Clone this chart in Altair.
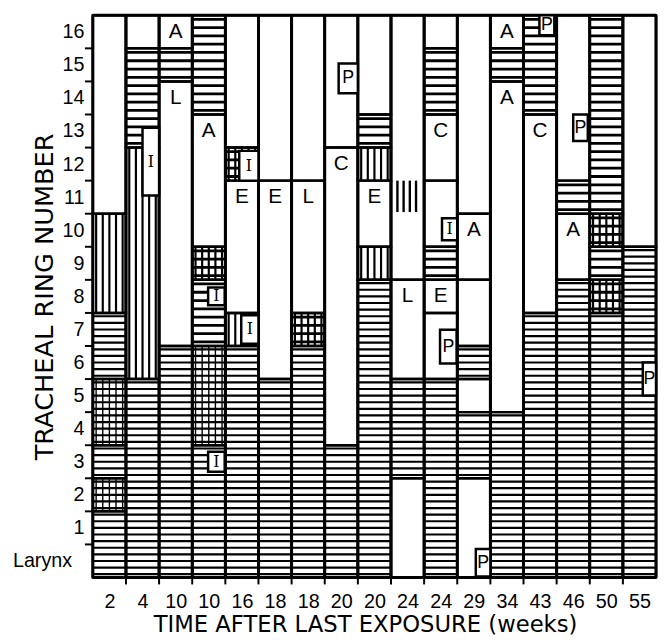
import json
import altair as alt
import pandas as pd

weeks = ["2", "4", "10", "10", "16", "18", "18", "20", "20", "24", "24", "29", "34", "43", "46", "50", "55"]
ring_labels = [""] + [str(i) for i in range(1, 17)]   # "Larynx" is drawn as its own label

# Segments of each column: column index, lower ring, upper ring, pattern, letter
# pattern: W = blank, H = horizontal lines, V = vertical lines, X = cross hatch
seg_col = [0, 0, 0, 0, 0, 0, 0,
           1, 1, 1, 1,
           2, 2, 2, 2,
           3, 3, 3, 3, 3, 3,
           4, 4, 4, 4, 4,
           5, 5, 5,
           6, 6, 6, 6,
           7, 7, 7,
           8, 8, 8, 8, 8, 8,
           9, 9, 9, 9,
           10, 10, 10, 10, 10, 10, 10, 10,
           11, 11, 11, 11, 11, 11, 11,
           12, 12, 12, 12,
           13, 13, 13,
           14, 14, 14, 14,
           15, 15, 15, 15, 15,
           16, 16]
seg_lo = [11, 8, 6, 4, 3, 2, 0,
          16, 13, 6, 0,
          16, 15, 7, 0,
          14, 10, 9, 7, 4, 0,
          13, 12, 8, 7, 0,
          12, 6, 0,
          12, 8, 7, 0,
          13, 4, 0,
          14, 13, 12, 10, 9, 0,
          9, 6, 3, 0,
          16, 14, 12, 10, 9, 8, 6, 0,
          11, 9, 7, 6, 5, 3, 0,
          16, 15, 5, 0,
          14, 8, 0,
          12, 11, 9, 0,
          11, 10, 9, 8, 0,
          10, 0]
seg_hi = [17, 11, 8, 6, 4, 3, 2,
          17, 16, 13, 6,
          17, 16, 15, 7,
          17, 14, 10, 9, 7, 4,
          17, 13, 12, 8, 7,
          17, 12, 6,
          17, 12, 8, 7,
          17, 13, 4,
          17, 14, 13, 12, 10, 9,
          17, 9, 6, 3,
          17, 16, 14, 12, 10, 9, 8, 6,
          17, 11, 9, 7, 6, 5, 3,
          17, 16, 15, 5,
          17, 14, 8,
          17, 12, 11, 9,
          17, 11, 10, 9, 8,
          17, 10]
seg_pat = ["W", "V", "H", "X", "H", "X", "H",
           "W", "H", "V", "H",
           "W", "H", "W", "H",
           "H", "W", "X", "H", "X", "H",
           "W", "X", "W", "V", "H",
           "W", "W", "H",
           "W", "W", "X", "H",
           "W", "W", "H",
           "W", "H", "V", "W", "V", "H",
           "W", "W", "H", "W",
           "W", "H", "W", "W", "H", "W", "W", "H",
           "W", "W", "W", "H", "W", "H", "W",
           "W", "H", "W", "H",
           "H", "W", "H",
           "W", "H", "W", "H",
           "H", "X", "H", "X", "H",
           "W", "H"]
seg_text = ["", "", "", "", "", "", "",
            "", "", "", "",
            "A", "", "L", "",
            "", "A", "", "", "", "",
            "", "", "E", "", "",
            "", "E", "",
            "", "L", "", "",
            "", "C", "",
            "", "", "", "E", "", "",
            "", "L", "", "",
            "", "", "C", "", "", "E", "", "",
            "", "A", "", "", "", "", "",
            "A", "", "A", "",
            "", "C", "",
            "", "", "A", "",
            "", "", "", "", "",
            "", ""]

# Small labelled boxes drawn over the columns
box_col = [1, 3, 3, 4, 4, 7, 10, 10, 11, 13, 14, 16]
box_x0 = [0.50, 0.48, 0.48, 0.42, 0.48, 0.42, 0.54, 0.48, 0.56, 0.48, 0.50, 0.60]
box_x1 = [1.00, 0.98, 0.98, 1.00, 1.00, 1.00, 1.00, 0.98, 1.00, 0.93, 0.94, 1.00]
box_lo = [11.55, 8.23, 3.2, 12.0, 7.07, 14.64, 10.2, 6.47, 0.03, 16.4, 13.2, 5.5]
box_hi = [13.6, 8.77, 3.8, 12.9, 7.93, 15.54, 10.86, 7.49, 0.86, 17.0, 14.0, 6.5]
box_text = ["I", "I", "I", "I", "I", "P", "I", "P", "P", "P", "P", "P"]

# Free-standing patch of vertical lines (no outline)
patch_col = [9]
patch_x0 = [0.1]
patch_x1 = [0.85]
patch_lo = [11.0]
patch_hi = [12.0]

W, H = 571, 570
FONT = "Liberation Sans"
TFONT = "DejaVu Sans"

seg = pd.DataFrame(dict(col=seg_col, lo=seg_lo, hi=seg_hi, pat=seg_pat, text=seg_text))
seg["x0"] = seg["col"]
seg["x1"] = seg["col"] + 1
seg["tx"] = seg["col"] + 0.5
seg["ty"] = seg["hi"] - 0.5

V_PER_COL = 5
rows = []
for r in seg.itertuples():
    upper = r.lo >= 7          # upper hatching is coarser and heavier
    per_unit = 4 if upper else 5
    if r.pat in ("H", "X"):
        n = int(round((r.hi - r.lo) * per_unit))
        for k in range(n):
            y = r.lo + (k + 0.5) / per_unit
            rows.append(dict(x0=r.col, x1=r.col + 1, y0=y, y1=y, w=2.8 if upper else 2.2))
    if r.pat in ("V", "X"):
        for k in range(V_PER_COL):
            x = r.col + (k + 0.5) / V_PER_COL
            rows.append(dict(x0=x, x1=x, y0=r.lo, y1=r.hi,
                             w=2.2 if (r.pat == "V" or upper) else 1.4))
for c, a, b, lo, hi in zip(patch_col, patch_x0, patch_x1, patch_lo, patch_hi):
    for k in range(4):
        x = c + a + (k + 0.5) * (b - a) / 4
        rows.append(dict(x0=x, x1=x, y0=lo + 0.05, y1=hi, w=2.4))
hatch = pd.DataFrame(rows)

box = pd.DataFrame(dict(col=box_col, a=box_x0, b=box_x1, lo=box_lo, hi=box_hi, text=box_text))
box["x0"] = box["col"] + box["a"]
box["x1"] = box["col"] + box["b"]
box["tx"] = (box["x0"] + box["x1"]) / 2
box["ty"] = (box["lo"] + box["hi"]) / 2

xs = alt.Scale(domain=[0, 17], nice=False, zero=False)
ys = alt.Scale(domain=[0, 17], nice=False, zero=False)

x_axis = alt.Axis(
    values=[i + 0.5 for i in range(17)],
    labelExpr=f"{json.dumps(weeks)}[floor(datum.value)]",
    ticks=False, domain=False, grid=False, labelPadding=14,
    labelFontSize=20, labelFont=FONT, labelColor="black",
    title="TIME AFTER LAST EXPOSURE (weeks)", titleFontSize=23, titleFont=TFONT,
    titleFontWeight="normal", titleColor="black", titlePadding=3, titleX=276,
)
y_axis = alt.Axis(
    values=[i + 0.5 for i in range(17)],
    labelExpr=f"{json.dumps(ring_labels)}[floor(datum.value)]",
    ticks=False, domain=False, grid=False, labelPadding=9,
    labelFontSize=20, labelFont=FONT, labelColor="black",
    title="TRACHEAL RING NUMBER", titleFontSize=26, titleFont=TFONT,
    titleFontWeight="normal", titleColor="black", titleX=-36,
)


def X(field):
    return alt.X(field, type="quantitative", scale=xs, axis=x_axis)


def Y(field):
    return alt.Y(field, type="quantitative", scale=ys, axis=y_axis)


base_fill = alt.Chart(seg).mark_rect(fill="white", stroke=None).encode(
    x=X("x0"), x2="x1", y=Y("lo"), y2="hi",
)

hatch_layer = alt.Chart(hatch).mark_rule(color="black").encode(
    x=X("x0"), x2="x1", y=Y("y0"), y2="y1",
    strokeWidth=alt.StrokeWidth("w:Q", scale=None),
)

outline = alt.Chart(seg).mark_rect(fill=None, stroke="black", strokeWidth=2.5).encode(
    x=X("x0"), x2="x1", y=Y("lo"), y2="hi",
)

dividers = alt.Chart(pd.DataFrame({"v": list(range(18))})).mark_rule(
    color="black", strokeWidth=3
).encode(
    x=X("v"), y=alt.value(0), y2=alt.value(H),
)
frame_h = alt.Chart(pd.DataFrame({"v": [0, 17]})).mark_rule(
    color="black", strokeWidth=3
).encode(
    y=Y("v"), x=alt.value(0), x2=alt.value(W),
)

yticks = alt.Chart(pd.DataFrame({"v": list(range(1, 17))})).mark_rule(
    color="black", strokeWidth=2
).encode(
    y=Y("v"), x=alt.value(-8), x2=alt.value(0),
)
xticks = alt.Chart(pd.DataFrame({"v": list(range(1, 17))})).mark_rule(
    color="black", strokeWidth=2
).encode(
    x=X("v"), y=alt.value(H), y2=alt.value(H + 7),
)

larynx = alt.Chart(pd.DataFrame({"v": [0.5], "t": ["Larynx"]})).mark_text(
    font=FONT, fontSize=20, color="black", baseline="middle", align="right"
).encode(
    y=Y("v"), x=alt.value(-21), text="t:N",
)

seg_letters = alt.Chart(seg[seg["text"] != ""]).mark_text(
    font=FONT, fontSize=21, color="black", baseline="middle", align="center"
).encode(
    x=X("tx"), y=Y("ty"), text="text:N",
)

box_rect = alt.Chart(box).mark_rect(fill="white", stroke="black", strokeWidth=2.5).encode(
    x=X("x0"), x2="x1", y=Y("lo"), y2="hi",
)
box_i = alt.Chart(box[box["text"] == "I"]).mark_text(
    font="DejaVu Serif", fontSize=16, color="black", baseline="middle", align="center"
).encode(
    x=X("tx"), y=Y("ty"), text="text:N",
)
box_p = alt.Chart(box[box["text"] == "P"]).mark_text(
    font=FONT, fontSize=18, color="black", baseline="middle", align="center"
).encode(
    x=X("tx"), y=Y("ty"), text="text:N",
)

chart = alt.layer(
    base_fill, hatch_layer, outline, dividers, frame_h, yticks, xticks, larynx,
    seg_letters, box_rect, box_i, box_p,
).properties(
    width=W, height=H,
    padding={"left": 4, "top": 1, "right": 0, "bottom": 0},
).configure_view(stroke=None)

chart.save("out.html", embed_options={"renderer": "svg", "actions": False})
